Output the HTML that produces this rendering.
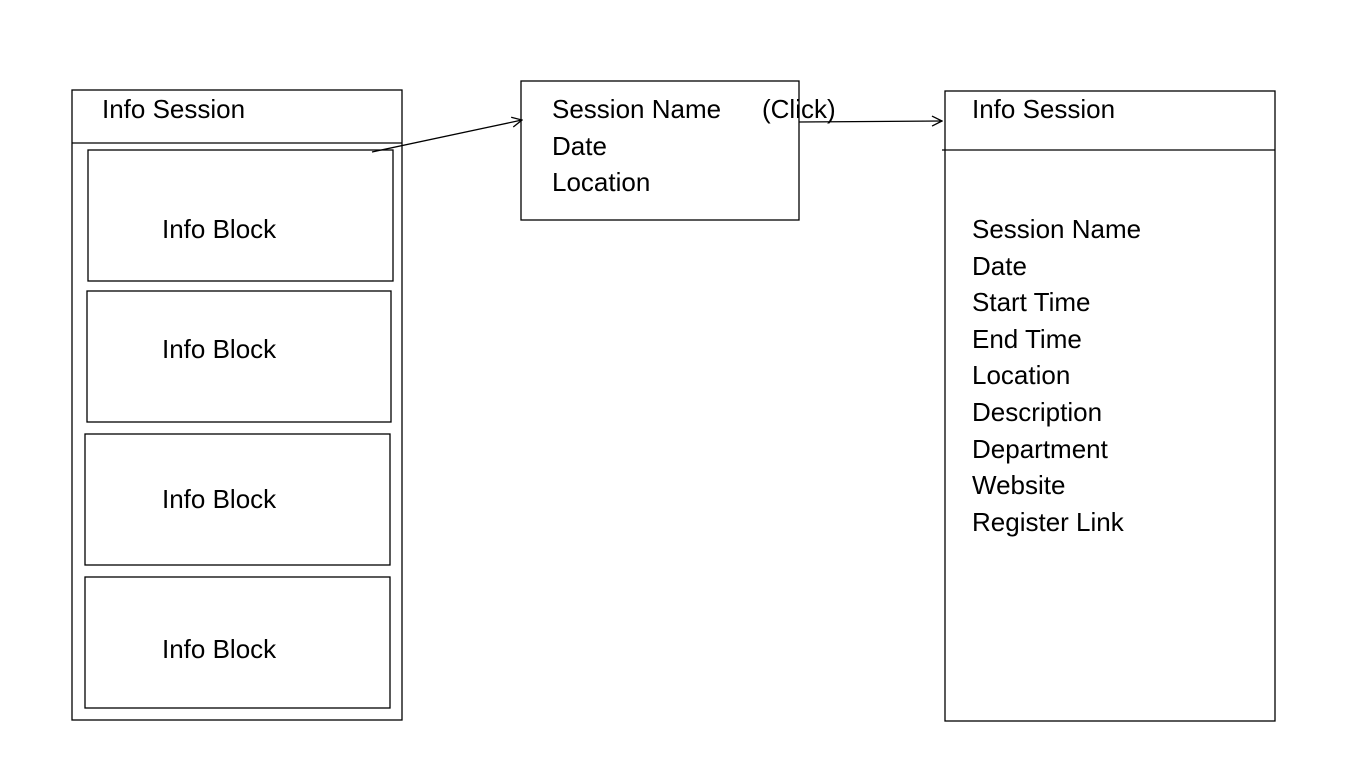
<!DOCTYPE html>
<html><head><style>body{margin:0;background:#fff}svg{display:block}text{font-family:"Liberation Sans",sans-serif;font-size:26px;fill:#000}</style></head><body>
<svg width="1367" height="775" viewBox="0 0 1367 775">
<defs><marker id="a" markerWidth="12" markerHeight="12" refX="11" refY="6" orient="auto" markerUnits="userSpaceOnUse"><path d="M1,1 L11,6 L1,11" fill="none" stroke="#000" stroke-width="1.3"/></marker></defs>
<g fill="none" stroke="#000" stroke-width="1.3">
<rect x="72" y="90" width="330" height="630"/>
<line x1="72" y1="143" x2="402" y2="143"/>
<rect x="88" y="150" width="305" height="131"/>
<rect x="87" y="291" width="304" height="131"/>
<rect x="85" y="434" width="305" height="131"/>
<rect x="85" y="577" width="305" height="131"/>
<rect x="521" y="81" width="278" height="139"/>
<rect x="945" y="91" width="330" height="630"/>
<line x1="942" y1="150" x2="1275" y2="150"/>
<line x1="372" y1="152" x2="522" y2="120" marker-end="url(#a)"/>
<line x1="799" y1="122" x2="942" y2="121" marker-end="url(#a)"/>
</g>
<text x="102" y="118">Info Session</text>
<text x="162" y="238">Info Block</text>
<text x="162" y="358">Info Block</text>
<text x="162" y="508">Info Block</text>
<text x="162" y="658">Info Block</text>
<text x="552" y="118">Session Name</text>
<text x="762" y="118">(Click)</text>
<text x="552" y="155">Date</text>
<text x="552" y="191">Location</text>
<text x="972" y="118">Info Session</text>
<text x="972" y="238">Session Name</text>
<text x="972" y="275">Date</text>
<text x="972" y="311">Start Time</text>
<text x="972" y="348">End Time</text>
<text x="972" y="384">Location</text>
<text x="972" y="421">Description</text>
<text x="972" y="458">Department</text>
<text x="972" y="494">Website</text>
<text x="972" y="531">Register Link</text>
</svg>
</body></html>
